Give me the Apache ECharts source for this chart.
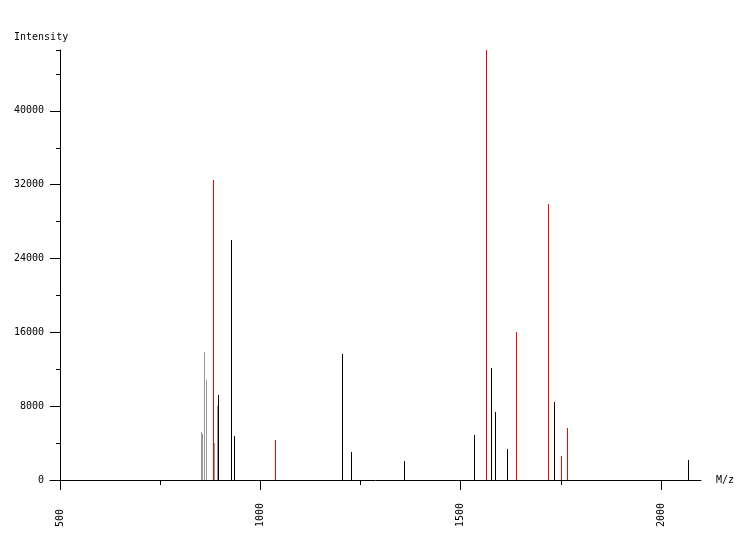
<!DOCTYPE html>
<html>
<head>
<meta charset="utf-8">
<script src="https://cdn.jsdelivr.net/npm/echarts@6/dist/echarts.min.js"></script>
<style>html,body{margin:0;padding:0;background:#fff;}#c{width:750px;height:540px;}</style>
</head>
<body>
<div id="c"></div>
<script>
// m/z values and intensities, grouped by peak colour
var grayMz = [852, 854.5, 859.5, 864.5, 884.5, 892];
var grayInt = [5200, 5000, 13900, 10850, 4050, 8000];
var redMz = [882, 1036.5, 1563.5, 1638.5, 1718, 1750.5, 1765.5];
var redInt = [32500, 4350, 46600, 16050, 29900, 2600, 5650];
var blackMz = [894.5, 927, 934.5, 1204, 1226.5, 1358.5, 1533.5, 1576, 1586, 1616, 1733, 2067.5];
var blackInt = [9200, 26000, 4750, 13650, 3050, 2050, 4900, 12150, 7350, 3350, 8450, 2150];
var xMajorTicks = [500, 1000, 1500, 2000];
var xMinorTicks = [750, 1250, 1750];

var FONT = 'DejaVu Sans Mono';
var COLORS = ['#999999', '#000000', '#ff0000'];
function build(mz, inten, ci) {
  return mz.map(function (m, i) { return [m, inten[i], ci]; });
}
var data = [].concat(build(grayMz, grayInt, 0), build(blackMz, blackInt, 1), build(redMz, redInt, 2));

var chart = echarts.init(document.getElementById('c'), null, { renderer: 'canvas' });
chart.setOption({
  animation: false,
  backgroundColor: '#ffffff',
  title: { text: 'Intensity', left: 14, top: 32, padding: 0, textStyle: { fontFamily: FONT, fontSize: 10, fontWeight: 'normal', color: '#000' } },
  grid: { left: 50, right: 49, top: 50, bottom: 60 },
  xAxis: [{
    type: 'value', min: 475, max: 2100,
    name: 'M/z', nameLocation: 'end', nameGap: 15,
    nameTextStyle: { fontFamily: FONT, fontSize: 10, color: '#000', padding: [13, 0, 0, 0] },
    axisLine: { show: true, onZero: false, lineStyle: { color: '#000', width: 1 } },
    axisTick: { show: true, length: 10, customValues: xMajorTicks, lineStyle: { color: '#000' } },
    axisLabel: { show: true, customValues: xMajorTicks, rotate: 90, align: 'left', verticalAlign: 'middle', margin: 47, fontFamily: FONT, fontSize: 10, color: '#000', formatter: function (v) { return String(v); } },
    splitLine: { show: false }
  }, {
    type: 'value', min: 475, max: 2100, position: 'bottom',
    axisLine: { show: false, onZero: false },
    axisTick: { show: true, length: 5, customValues: xMinorTicks, lineStyle: { color: '#000' } },
    axisLabel: { show: false },
    splitLine: { show: false }
  }],
  yAxis: [{
    type: 'value', min: 0, max: 46600, interval: 8000, position: 'left', offset: -10,
    axisLine: { show: true, onZero: false, lineStyle: { color: '#000', width: 1 } },
    axisTick: { show: true, length: 10, lineStyle: { color: '#000' } },
    axisLabel: { show: true, margin: 16, fontFamily: FONT, fontSize: 10, color: '#000', showMaxLabel: false, formatter: function (v) { return String(v); } },
    splitLine: { show: false }
  }, {
    type: 'value', min: 0, max: 46600, interval: 4000, position: 'left', offset: -10,
    axisLine: { show: false, onZero: false },
    axisTick: { show: true, length: 4, lineStyle: { color: '#000' } },
    axisLabel: { show: false },
    splitLine: { show: false }
  }],
  series: [{
    type: 'custom',
    xAxisIndex: 0, yAxisIndex: 0,
    encode: { x: 0, y: 1 },
    data: data,
    renderItem: function (params, api) {
      var top = api.coord([api.value(0), api.value(1)]);
      var base = api.coord([api.value(0), 0]);
      var x = Math.round(top[0]);
      return {
        type: 'rect',
        shape: { x: x, y: Math.round(top[1]), width: 1, height: Math.round(base[1]) - Math.round(top[1]) },
        style: { fill: COLORS[api.value(2)] }
      };
    }
  }]
});
</script>
</body>
</html>
